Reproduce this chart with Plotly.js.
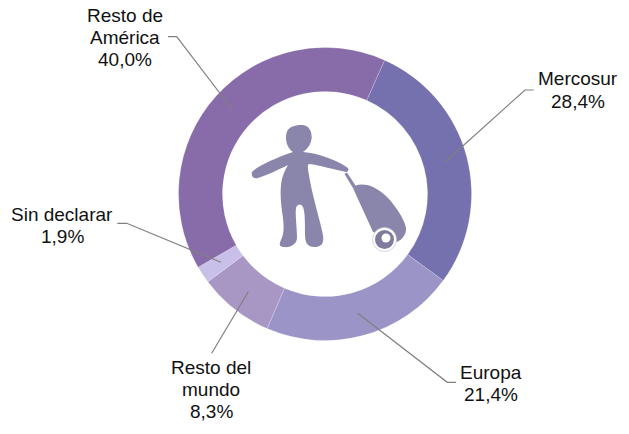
<!DOCTYPE html>
<html><head><meta charset="utf-8">
<script src="https://cdn.plot.ly/plotly-3.0.1.min.js"></script>
<style>html,body{margin:0;padding:0;background:#fff}#c{width:629px;height:434px}</style>
</head><body><div id="c"></div>
<script>
const categories = ["Mercosur","Europa","Resto del mundo","Sin declarar","Resto de América"];
const shares = [28.4,21.4,8.3,1.9,40.0];
const sliceColors = ["#7570ae","#9a94c7","#a897c5","#c9c0ea","#886ca9"];
const labelLines = [["Mercosur"],["Europa"],["Resto del","mundo"],["Sin declarar"],["Resto de","América"]];

const W=629,H=434;
const fx=x=>x/W, fy=y=>1-y/H;
function P(d){
  let i=0;
  return d.replace(/-?\d+(\.\d+)?/g,m=>{const v=+m;return (i++%2===0?fx(v):fy(v)).toFixed(5);});
}
// x centre and y of the first text line of each label, in page pixels
const labelPos=[[578,79],[491,372],[211,367],[62,214],[125,15]];
const lineGap=22.3;
const leaders=[
  "M533.7 90 L525 90 L445.3 161.7",
  "M456 382.3 L447.3 382.3 L357.7 313.3",
  "M211.7 353.3 L248.3 291.7",
  "M117.3 223.3 L126.7 223.3 L221 262.3",
  "M168 36.7 L176.7 36.7 L232.7 110"
];
const iconColor="#8a86ab";
const body="M293 152 C287 148 285 140 286.5 133 C288 126 297 124.5 303 125 C309 125.5 312.5 132 311.5 139 C310.5 146 306 150 303 152 C318 153 337 160 348 168 C349 170 348 172 346 172 C335 170 320 165 309 164 C307 165 308 170 309 175 C312 195 320 220 323 235 C324 243 322 247 314 247 C307 247 305 242 305 234 C305 222 305 212 303 207 C301 203 297 204 296 208 C295 215 297 228 297 238 C297 244 290 248 284 247 C279 247 279 244 281 240 C284 234 284 228 283 218 C281 205 280 195 281 185 C282 176 285 170 288 165 C278 170 265 176 258 178 C253 179 251 176 252 172 C256 167 275 158 293 152 Z";
const bag="M344.5 174 L347 172.5 L355.5 185.5 C360 184 366 184 373 187 C383 192 390 199 396 208 C401 215 405 222 406 228 C406.5 234 403 239 397 242 L373 232 C367 218 359 202 353 188 Z";
const shapes=[
  {type:"path",xref:"paper",yref:"paper",path:P(body),fillcolor:iconColor,line:{width:0}},
  {type:"path",xref:"paper",yref:"paper",path:P(bag),fillcolor:iconColor,line:{width:0}},
  {type:"circle",xref:"paper",yref:"paper",x0:fx(372.5),x1:fx(396.5),y0:fy(251.5),y1:fy(227.5),fillcolor:"#ffffff",line:{color:"#c4c3d4",width:0.7}},
  {type:"circle",xref:"paper",yref:"paper",x0:fx(375),x1:fx(394),y0:fy(249),y1:fy(230),fillcolor:"#7f7b9f",line:{width:0}},
  {type:"circle",xref:"paper",yref:"paper",x0:fx(381.5),x1:fx(390.5),y0:fy(242.5),y1:fy(233.5),fillcolor:"#ffffff",line:{width:0}}
];
leaders.forEach(d=>shapes.push({type:"path",xref:"paper",yref:"paper",path:P(d),line:{color:"#808080",width:1.2}}));

const annotations=[];
categories.forEach((c,i)=>{
  labelLines[i].concat([shares[i].toFixed(1).replace(".",",")+"%"]).forEach((t,j)=>{
    annotations.push({xref:"paper",yref:"paper",x:fx(labelPos[i][0]),y:fy(labelPos[i][1]+j*lineGap),xanchor:"center",yanchor:"middle",
      text:t,showarrow:false,align:"center",font:{family:"Liberation Sans, Arial, sans-serif",size:19,color:"#111111"}});
  });
});
const cx=325,cy=194,R=146.5;
Plotly.newPlot("c",[{type:"pie",labels:categories,values:shares,hole:0.7,sort:false,direction:"clockwise",rotation:24,
  marker:{colors:sliceColors,line:{color:"rgba(255,255,255,0.4)",width:0.5}},textinfo:"none",hoverinfo:"label+percent",
  domain:{x:[fx(cx-R),fx(cx+R)],y:[fy(cy+R),fy(cy-R)]}}],
  {width:W,height:H,margin:{l:0,r:0,t:0,b:0},paper_bgcolor:"#ffffff",showlegend:false,shapes,annotations},
  {displayModeBar:false,staticPlot:true});
</script></body></html>
